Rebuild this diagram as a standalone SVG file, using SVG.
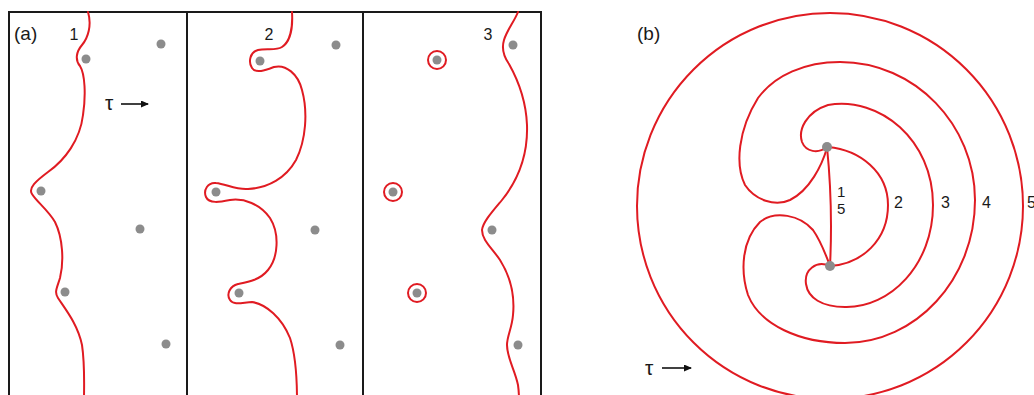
<svg xmlns="http://www.w3.org/2000/svg" width="1034" height="395" viewBox="0 0 1034 395">
<defs>
<style>
.frame{fill:none;stroke:#1a1a1a;stroke-width:2}
.front{fill:none;stroke:#e01b22;stroke-width:2;stroke-linecap:round;stroke-linejoin:round}
.dot{fill:#8c8c8c}
.lbl{font-family:"Liberation Sans",Arial,sans-serif;font-size:16px;fill:#1a1a1a}
.lbls{font-family:"Liberation Sans",Arial,sans-serif;font-size:15px;fill:#1a1a1a}
.plbl{font-family:"Liberation Sans",Arial,sans-serif;font-size:19px;fill:#1a1a1a}
.tau{font-family:"Liberation Sans",Arial,sans-serif;font-size:21px;fill:#1a1a1a}
.arr{stroke:#111;stroke-width:1.6;fill:none}
</style>
<marker id="ah" markerWidth="8" markerHeight="7" refX="7" refY="3.5" orient="auto" markerUnits="userSpaceOnUse">
<path d="M0,0 L8,3.5 L0,7 Z" fill="#111"/>
</marker>
</defs>
<rect width="1034" height="395" fill="#fff"/>

<g id="panel-a-frame">
<path class="frame" d="M9,400 V12 H541 V400 M187,12 V400 M363,12 V400"/>
</g>

<g id="panel-a-labels">
<text class="plbl" x="14" y="40">(a)</text>
<text class="lbl" x="74" y="40" text-anchor="middle">1</text>
<text class="lbl" x="269" y="40" text-anchor="middle">2</text>
<text class="lbl" x="488" y="40" text-anchor="middle">3</text>
<text class="tau" x="105" y="110">τ</text>
<line class="arr" x1="121" y1="104" x2="148" y2="104" marker-end="url(#ah)"/>
</g>

<g id="panel-a1">
<path class="front" d="M88,12 C92,25 88,38 82,45 C76,52 75,60 80,66 C85,74 86,95 83,115 C80,140 65,160 48,172 C36,181 28,188 32,194 C36,201 48,210 55,222 C63,238 64,262 60,278 C57,288 54,292 58,298 C66,310 78,325 82,345 C85,365 84,385 84,400"/>
<circle class="dot" cx="86" cy="59" r="4.5"/>
<circle class="dot" cx="161" cy="44" r="4.5"/>
<circle class="dot" cx="41" cy="191" r="4.5"/>
<circle class="dot" cx="140" cy="229" r="4.5"/>
<circle class="dot" cx="65" cy="292" r="4.5"/>
<circle class="dot" cx="166" cy="344" r="4.5"/>
</g>

<g id="panel-a2">
<path class="front" d="M292,12 C293,28 290,42 282,47 C276,51 266,48 258,50 C250,52 248,62 252,68 C256,74 266,70 274,67 C286,64 298,74 302,90 C308,112 306,140 296,160 C286,178 268,188 248,189 C236,190 226,184 216,183 C208,182 203,190 206,197 C209,204 220,202 230,200 C244,198 260,204 270,218 C280,234 278,258 268,270 C260,280 248,282 238,284 C230,286 226,294 230,300 C234,306 244,302 252,302 C266,304 282,318 290,338 C296,356 297,378 297,400"/>
<circle class="dot" cx="260" cy="61" r="4.5"/>
<circle class="dot" cx="336" cy="45" r="4.5"/>
<circle class="dot" cx="216" cy="192" r="4.5"/>
<circle class="dot" cx="315" cy="230" r="4.5"/>
<circle class="dot" cx="239" cy="293" r="4.5"/>
<circle class="dot" cx="340" cy="345" r="4.5"/>
</g>

<g id="panel-a3">
<path class="front" d="M518,12 C514,22 507,30 504,40 C501,50 504,57 509,64 C518,80 526,100 527,125 C528,155 518,180 502,200 C492,212 483,222 482,230 C482,240 492,248 500,260 C510,276 515,295 513,315 C512,328 507,336 507,345 C507,358 515,370 518,385 C519,392 519,396 519,400"/>
<circle class="front" cx="437" cy="60" r="9"/>
<circle class="front" cx="393" cy="192" r="9"/>
<circle class="front" cx="417" cy="293" r="9"/>
<circle class="dot" cx="513" cy="45" r="4.5"/>
<circle class="dot" cx="437" cy="60" r="4.5"/>
<circle class="dot" cx="393" cy="192" r="4.5"/>
<circle class="dot" cx="492" cy="230" r="4.5"/>
<circle class="dot" cx="417" cy="293" r="4.5"/>
<circle class="dot" cx="518" cy="345" r="4.5"/>
</g>

<g id="panel-b-labels">
<text class="plbl" x="637" y="40">(b)</text>
<text class="lbls" x="837" y="197">1</text>
<text class="lbls" x="837" y="214">5</text>
<text class="lbl" x="894" y="208">2</text>
<text class="lbl" x="941" y="208">3</text>
<text class="lbl" x="982" y="208">4</text>
<text class="lbl" x="1027" y="208">5</text>
<text class="tau" x="645" y="375">τ</text>
<line class="arr" x1="662" y1="368" x2="691" y2="368" marker-end="url(#ah)"/>
</g>

<g id="panel-b-fronts">
<circle class="front" cx="830" cy="206" r="193"/>
<path class="front" d="M827,147 C818,154 806,152 802,142 C798,130 806,112 828,105 C880,96 933,140 933,205 C933,265 890,308 845,307 C822,307 808,298 806,284 C804,270 816,260 830,266"/>
<path class="front" d="M827,148 C822,165 810,190 790,200 C775,207 755,200 745,185 C735,165 738,130 758,98 C775,75 805,62 840,62 C915,62 975,125 975,200 C975,280 915,343 845,343 C800,343 760,325 748,295 C740,270 742,240 760,222 C775,210 800,215 813,230 C820,240 826,255 830,266"/>
<path class="front" d="M828,147 C860,150 888,172 888,205 C888,240 862,264 830,266"/>
<path class="front" d="M827,147 Q833,206 830,266"/>
</g>

<g id="panel-b-dots">
<circle class="dot" cx="827" cy="147" r="5"/>
<circle class="dot" cx="830" cy="266" r="5"/>
</g>
</svg>
